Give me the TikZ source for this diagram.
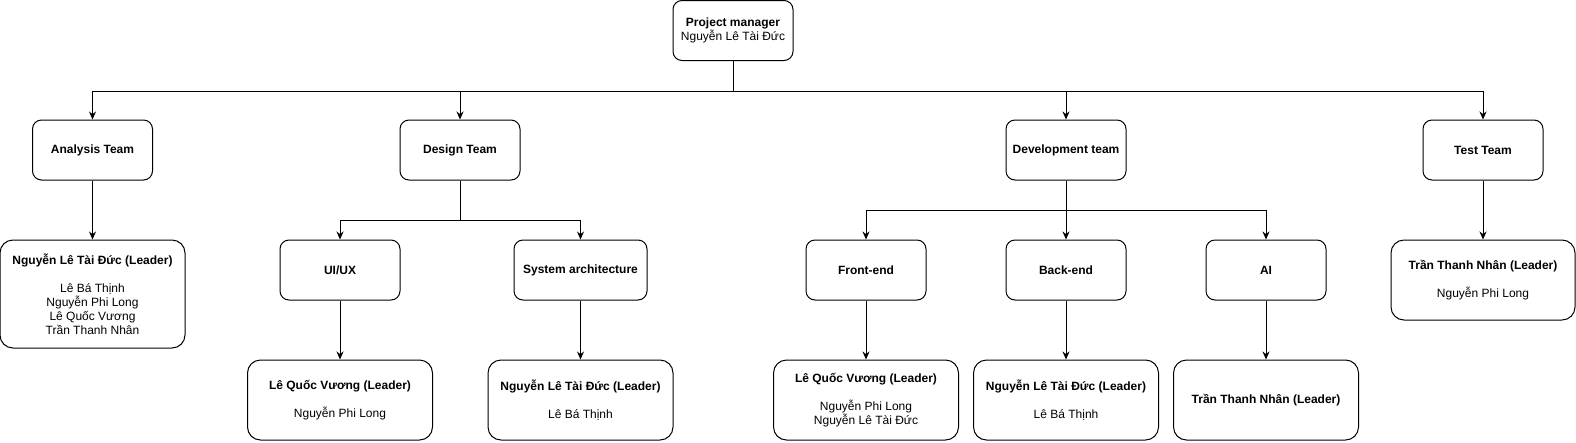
\documentclass[tikz,border=0pt]{standalone}
\usepackage{fontspec}
\setmainfont{Liberation Sans}
\usetikzlibrary{arrows.meta}
\def\ldr#1{\textbf{#1 (Leader)}}

\tikzset{
	box/.style={draw, line width=1pt, rounded corners=9pt, minimum width=120pt, minimum height=60pt,
		align=center, inner sep=2pt, font=\fontsize{12}{14}\selectfont},
	leadbox/.style={box, rounded corners=13pt, minimum width=185pt, minimum height=80pt},
	arr/.style={-{Stealth[length=8pt,width=7pt]}, line width=1pt},
}

\begin{document}
\begin{tikzpicture}[x=1pt, y=-1pt]
		%%%%% START %%%%%
		\useasboundingbox (0,0) rectangle (1576,442);
		
		\node[box] (pm) at (733, 30.5) {\textbf{Project manager}\\Nguyễn Lê Tài Đức};
		
		\node[box] (ana) at (92.5, 150) {\textbf{Analysis Team}};
		\node[box] (des) at (460, 150) {\textbf{Design Team}};
		\node[box] (dev) at (1066, 150) {\textbf{Development team}};
		\node[box] (tst) at (1483, 150) {\textbf{Test Team}};
		
		\node[box] (uiux) at (340, 270) {\textbf{UI/UX}};
		\node[box, minimum width=133pt] (sys) at (580.5, 270) {\textbf{System architecture}};
		\node[box] (fe) at (866, 270) {\textbf{Front-end}};
		\node[box] (be) at (1066, 270) {\textbf{Back-end}};
		\node[box] (ai) at (1266, 270) {\textbf{AI}};
		
		\node[leadbox, minimum height=108pt] (analead) at (92.5, 294)
			{\ldr{Nguyễn Lê Tài Đức}\\[14pt]Lê Bá Thịnh\\Nguyễn Phi Long\\Lê Quốc Vương\\Trần Thanh Nhân};
		\node[leadbox] (uiuxlead) at (340, 400) {\ldr{Lê Quốc Vương}\\[14pt]Nguyễn Phi Long};
		\node[leadbox] (syslead) at (580.5, 400) {\ldr{Nguyễn Lê Tài Đức}\\[14pt]Lê Bá Thịnh};
		\node[leadbox] (felead) at (866, 400) {\ldr{Lê Quốc Vương}\\[14pt]Nguyễn Phi Long\\Nguyễn Lê Tài Đức};
		\node[leadbox] (belead) at (1066, 400) {\ldr{Nguyễn Lê Tài Đức}\\[14pt]Lê Bá Thịnh};
		\node[leadbox] (ailead) at (1266, 400) {\ldr{Trần Thanh Nhân}};
		\node[leadbox, minimum width=184pt] (tstlead) at (1483, 280) {\ldr{Trần Thanh Nhân}\\[14pt]Nguyễn Phi Long};
		
		\foreach \t in {ana, des, dev, tst}
			\draw[arr] (pm.south) -- ++(0, 30) -| (\t.north);
		
		\draw[arr] (des.south) -- ++(0, 40) -| (uiux.north);
		\draw[arr] (des.south) -- ++(0, 40) -| (sys.north);
		
		\draw[arr] (dev.south) -- ++(0, 30) -| (fe.north);
		\draw[arr] (dev.south) -- (be.north);
		\draw[arr] (dev.south) -- ++(0, 30) -| (ai.north);
		
		\draw[arr] (ana) -- (analead);
		\draw[arr] (tst) -- (tstlead);
		\foreach \s in {uiux, sys, fe, be, ai}
			\draw[arr] (\s) -- (\s lead);
		
		%%%%% END %%%%%
\end{tikzpicture}
\end{document}
